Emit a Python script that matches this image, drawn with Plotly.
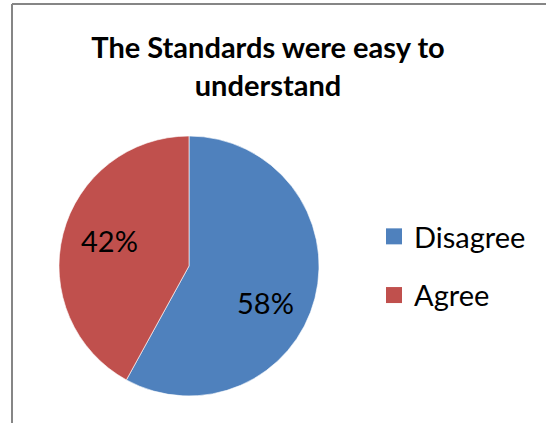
import math
import plotly.graph_objects as go

# Survey responses
labels = ["Disagree", "Agree"]
values = [58, 42]
colors = ["#4F81BD", "#C0504D"]
title_text = "The Standards were easy to<br>understand"

W, H = 546, 423
FONT = "Lato, 'Open Sans', sans-serif"

# Pie placement (paper fractions)
dom_x = [58 / W, 320 / W]
dom_y = [27 / H, 287 / H]

fig = go.Figure()

fig.add_trace(go.Pie(
    labels=labels,
    values=values,
    sort=False,
    direction="clockwise",
    rotation=0,
    marker=dict(colors=colors, line=dict(color="rgba(255,255,255,0.6)", width=1)),
    textinfo="none",
    domain=dict(x=dom_x, y=dom_y),
    showlegend=False,
    hoverinfo="label+percent",
))

# Percentage labels placed along each slice's bisector
total = sum(values)
cx = (dom_x[0] + dom_x[1]) / 2 * W
cy = H - (dom_y[0] + dom_y[1]) / 2 * H
radius = (dom_x[1] - dom_x[0]) * W / 2
label_shift = [(-6, 15), (3, -4)]  # fine offsets in px (right, down)
start = 0.0
annotations = []
for v, (sx, sy) in zip(values, label_shift):
    mid = math.radians((start + v / 2) / total * 360)
    start += v
    px = cx + 0.65 * radius * math.sin(mid) + sx
    py = cy - 0.65 * radius * math.cos(mid) + sy
    annotations.append(dict(
        text=f"{round(100 * v / total)}%",
        x=px / W, y=1 - py / H, xref="paper", yref="paper",
        xanchor="center", yanchor="middle", showarrow=False,
        font=dict(family=FONT, size=29, color="#000000"),
    ))

# Legend entries as square markers matching the slice colours
for lab, col in zip(labels, colors):
    fig.add_trace(go.Scatter(
        x=[None], y=[None], mode="markers", name=lab,
        legendgroup=lab,
        marker=dict(symbol="square", size=17, color=col),
    ))

fig.update_layout(
    width=W, height=H,
    margin=dict(l=0, r=0, t=0, b=0),
    paper_bgcolor="white",
    plot_bgcolor="white",
    xaxis=dict(visible=False),
    yaxis=dict(visible=False),
    title=dict(
        text=title_text,
        x=268 / W, xanchor="center",
        y=1 - 58 / H, yanchor="top",
        font=dict(family=FONT, size=29, color="#000000", weight="bold"),
    ),
    legend=dict(
        x=374 / W, xanchor="left",
        y=1 - 211 / H, yanchor="top",
        font=dict(family=FONT, size=29, color="#000000"),
        tracegroupgap=18,
        bgcolor="rgba(0,0,0,0)",
    ),
    annotations=annotations,
    shapes=[
        dict(type="line", xref="paper", yref="paper", x0=12 / W, x1=1.0, y0=1 - 4 / H, y1=1 - 4 / H,
             line=dict(color="#868686", width=2)),
        dict(type="line", xref="paper", yref="paper", x0=12 / W, x1=12 / W, y0=0, y1=1 - 4 / H,
             line=dict(color="#868686", width=2)),
    ],
)

fig.write_html("out.html")
